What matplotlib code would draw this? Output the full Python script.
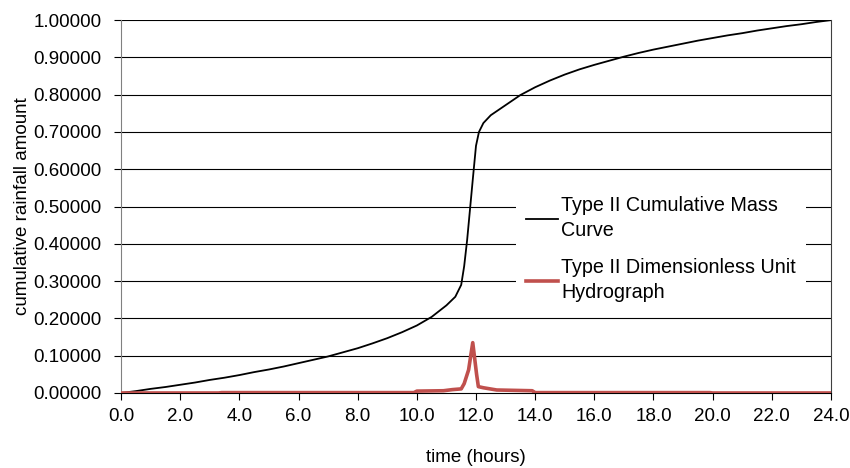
import matplotlib
matplotlib.use("Agg")
import matplotlib.pyplot as plt
import matplotlib.ticker as mticker

plt.rcParams["font.family"] = ["Liberation Sans", "DejaVu Sans"]

# SCS Type II cumulative mass curve (fraction of 24-h rainfall)
mass_t = [0.0, 0.5, 1.0, 1.5, 2.0, 2.5, 3.0, 3.5, 4.0, 4.5, 5.0, 5.5, 6.0, 6.5,
          7.0, 7.5, 8.0, 8.5, 9.0, 9.5, 10.0, 10.5, 11.0, 11.3, 11.5, 11.6, 11.7,
          11.8, 11.9, 12.0, 12.1, 12.25, 12.5, 13.0, 13.5, 14.0, 14.5, 15.0,
          15.5, 16.0, 16.5, 17.0, 17.5, 18.0, 18.5, 19.0, 19.5, 20.0, 20.5,
          21.0, 21.5, 22.0, 22.5, 23.0, 23.5, 24.0]
mass_v = [0.000, 0.005, 0.011, 0.016, 0.022, 0.028, 0.035, 0.041, 0.048, 0.056,
          0.063, 0.071, 0.080, 0.089, 0.098, 0.109, 0.120, 0.133, 0.147, 0.163,
          0.181, 0.204, 0.235, 0.258, 0.290, 0.340, 0.410, 0.495, 0.580, 0.663,
          0.700, 0.724, 0.745, 0.772, 0.799, 0.820, 0.838, 0.854, 0.868, 0.880,
          0.891, 0.902, 0.912, 0.921, 0.929, 0.937, 0.945, 0.952, 0.959, 0.965,
          0.972, 0.978, 0.984, 0.989, 0.995, 1.000]

# dimensionless unit hydrograph
uh_t = [0.0, 3.3, 3.4, 9.9, 10.0, 10.9, 11.2, 11.5, 11.6, 11.75, 11.89, 12.02,
        12.08, 12.25, 12.7, 13.9, 14.0, 19.9, 20.0, 24.0]
uh_v = [0.000, 0.000, 0.001, 0.001, 0.005, 0.006, 0.009, 0.011, 0.025, 0.062,
        0.135, 0.050, 0.017, 0.014, 0.008, 0.006, 0.001, 0.001, 0.000, 0.000]

x_ticks = [0, 2, 4, 6, 8, 10, 12, 14, 16, 18, 20, 22, 24]
y_ticks = [0.0, 0.1, 0.2, 0.3, 0.4, 0.5, 0.6, 0.7, 0.8, 0.9, 1.0]

RED = "#C0504D"
FS = 13.5

fig = plt.figure(figsize=(8.5, 4.68), dpi=100)
ax = fig.add_axes([0.1424, 0.1603, 0.8352, 0.7967])

for y in y_ticks[1:]:
    ax.axhline(y, color="black", lw=0.8, zorder=1)

ax.plot(mass_t, mass_v, color="black", lw=1.3, zorder=3,
        label="Type II Cumulative Mass\nCurve")
ax.plot(uh_t, uh_v, color=RED, lw=2.6, zorder=4,
        label="Type II Dimensionless Unit\nHydrograph")

ax.set_xlim(0, 24)
ax.set_ylim(0, 1.0)
ax.set_xticks(x_ticks)
ax.set_yticks(y_ticks)
ax.xaxis.set_major_formatter(mticker.FormatStrFormatter("%.1f"))
ax.yaxis.set_major_formatter(mticker.FormatStrFormatter("%.5f"))
ax.tick_params(axis="both", direction="out", length=5, width=0.8,
               labelsize=FS, colors="black")
ax.tick_params(axis="y", pad=9)
ax.tick_params(axis="x", pad=6)

ax.spines["top"].set_visible(False)
ax.spines["left"].set_color("#808080")
ax.spines["right"].set_color("#404040")
ax.spines["bottom"].set_color("black")
for s in ax.spines.values():
    s.set_linewidth(0.8)

ax.set_xlabel("time (hours)", fontsize=FS, labelpad=17)
ax.set_ylabel("cumulative rainfall amount", fontsize=FS, labelpad=1.5)

leg = ax.legend(loc="center left", bbox_to_anchor=(0.556, 0.386), frameon=True,
                fontsize=14.2, handlelength=1.65, handletextpad=0.15,
                labelspacing=0.95, borderpad=0.5, borderaxespad=0)
for t in leg.get_texts():
    t.set_linespacing(1.35)
leg.get_frame().set_edgecolor("none")
leg.get_frame().set_facecolor("white")
leg.get_frame().set_alpha(1.0)
leg.set_zorder(5)

fig.savefig("out.png", dpi=100)
